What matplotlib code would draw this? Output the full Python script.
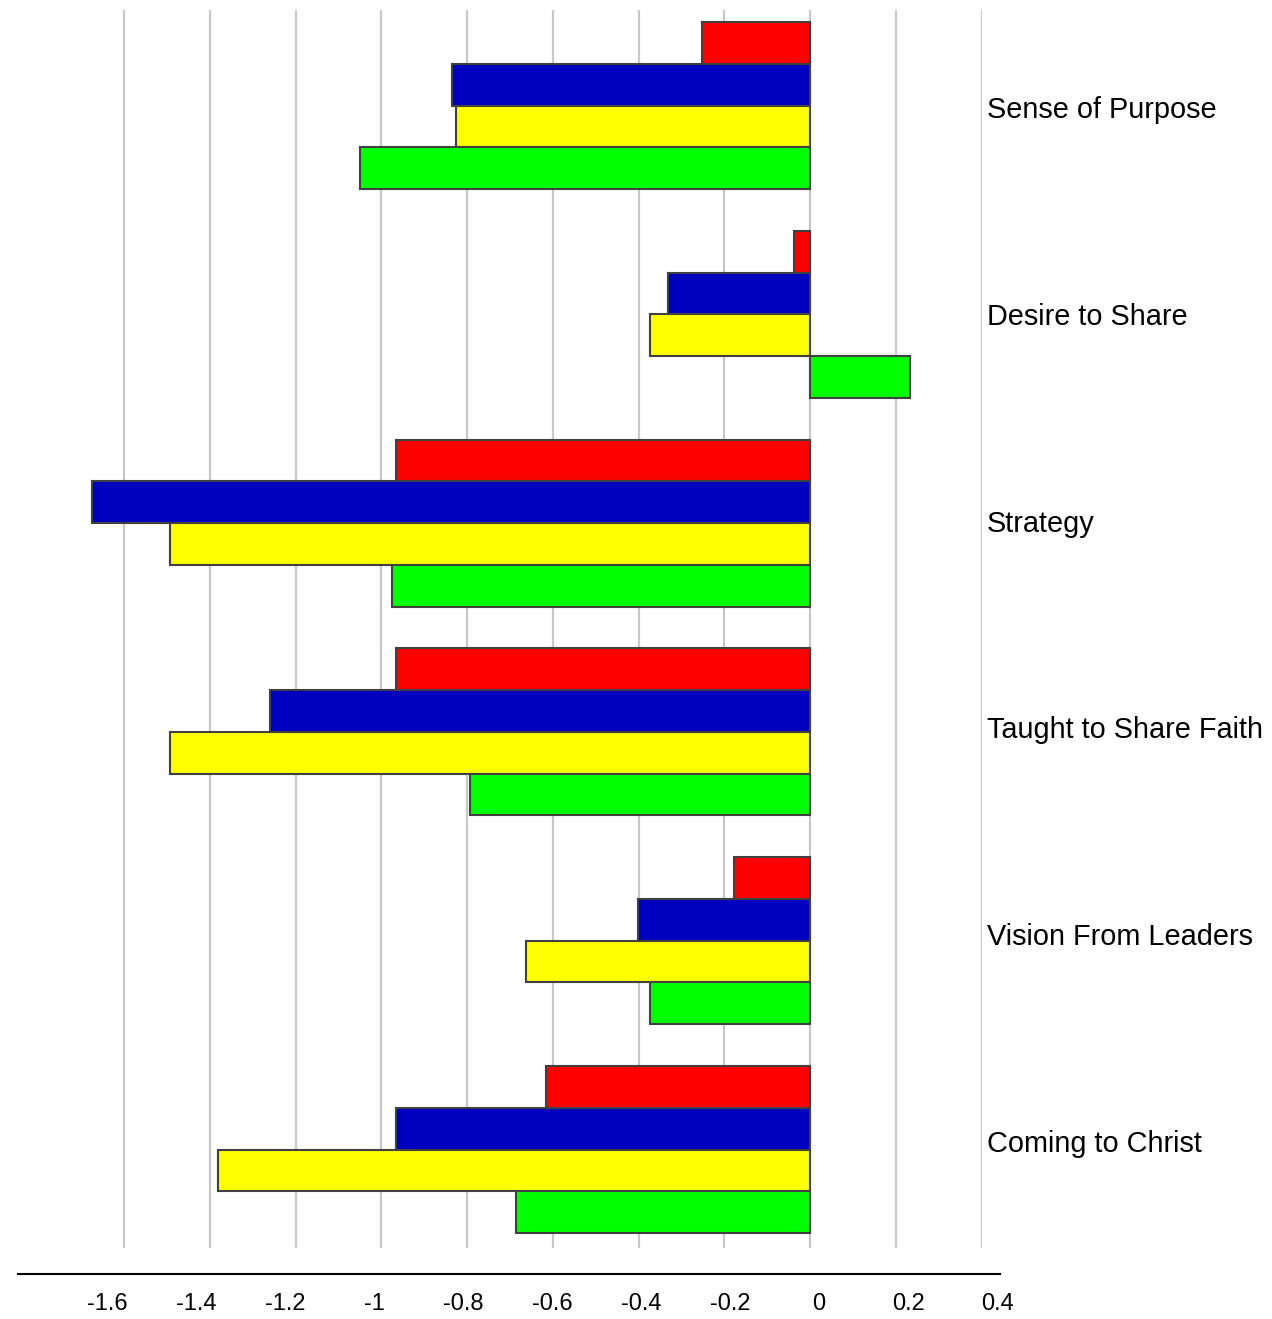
import matplotlib
matplotlib.use("Agg")
import matplotlib.pyplot as plt
import numpy as np

plt.rcParams['font.family'] = ['Liberation Sans', 'DejaVu Sans']

categories = ["Sense of Purpose", "Desire to Share", "Strategy",
              "Taught to Share Faith", "Vision From Leaders", "Coming to Christ"]
red_vals = [-0.252, -0.037, -0.966, -0.966, -0.177, -0.616]
blue_vals = [-0.836, -0.332, -1.675, -1.260, -0.402, -0.966]
yellow_vals = [-0.826, -0.374, -1.493, -1.493, -0.662, -1.381]
green_vals = [-1.050, 0.233, -0.976, -0.793, -0.373, -0.686]
series = [red_vals, blue_vals, yellow_vals, green_vals]
colors = ["#FF0000", "#0000C0", "#FFFF00", "#00FF00"]

grid_ticks = [-1.6, -1.4, -1.2, -1.0, -0.8, -0.6, -0.4, -0.2, 0.0, 0.2, 0.4]
tick_labels = ["-1.6", "-1.4", "-1.2", "-1", "-0.8", "-0.6", "-0.4", "-0.2", "0", "0.2", "0.4"]

W, H = 1272, 1319
fig = plt.figure(figsize=(W / 100, H / 100), dpi=100)

def px_axes(x0, y0, x1, y1):
    return fig.add_axes([x0 / W, 1 - y1 / H, (x1 - x0) / W, (y1 - y0) / H])

# main plotting area
ax = px_axes(18, 10, 982, 1248)
scale = 428.75
zero_px = 810
pitch = 208.8
c0 = 105.5
ax.set_xlim((18 - zero_px) / scale, (982 - zero_px) / scale)
ax.set_ylim((1248 - c0) / pitch, (10 - c0) / pitch)

bar_h = 0.2
offsets = [-0.3, -0.1, 0.1, 0.3]
y = np.arange(len(categories))
for vals, col, off in zip(series, colors, offsets):
    ax.barh(y + off, vals, height=bar_h, color=col, edgecolor="#404040",
            linewidth=1.5, zorder=3)

ax.set_xticks(grid_ticks)
ax.set_xticklabels([])
ax.set_yticks([])
ax.tick_params(length=0)
ax.grid(axis='x', color="#c8c8c8", linewidth=1.6, zorder=0)
for s in ax.spines.values():
    s.set_visible(False)

# category labels (own vertical scale)
axl = px_axes(987, 10, 1270, 1248)
lp, l0 = 206.8, 110
axl.set_xlim(0, 1)
axl.set_ylim((1248 - l0) / lp, (10 - l0) / lp)
axl.axis('off')
for i, cat in enumerate(categories):
    axl.text(0, i, cat, ha='left', va='center', fontsize=20.8,
             color='black', clip_on=False)

# bottom axis
ax2 = px_axes(18, 1273, 1000, 1274)
ax2.set_xlim(-1.8, -1.8 + 982 / 445)
ax2.set_xticks(grid_ticks)
ax2.set_xticklabels(tick_labels, fontsize=17)
ax2.set_yticks([])
ax2.tick_params(axis='x', length=0, pad=14)
for k in ['top', 'left', 'right']:
    ax2.spines[k].set_visible(False)
ax2.spines['bottom'].set_linewidth(1.5)
ax2.patch.set_visible(False)

fig.savefig("out.png", dpi=100)
